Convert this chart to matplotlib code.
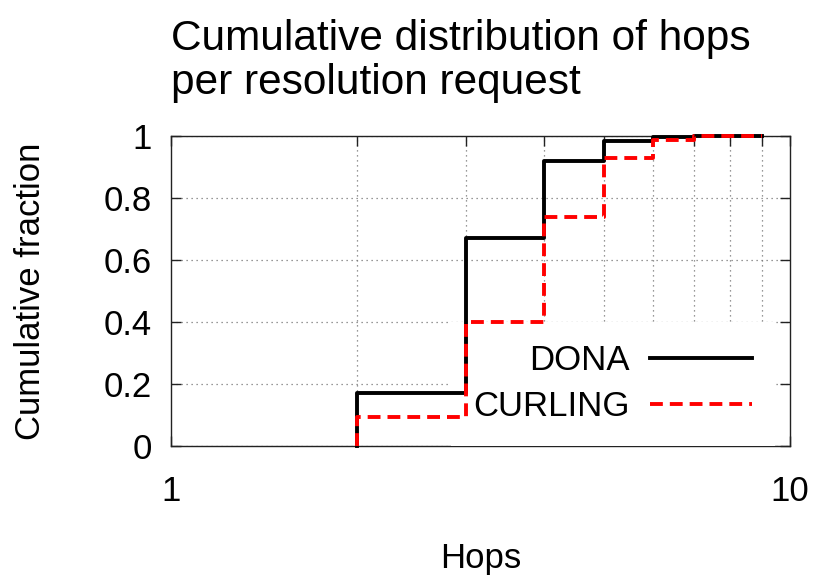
import matplotlib
matplotlib.use("Agg")
import matplotlib.pyplot as plt
import numpy as np

plt.rcParams['font.family'] = ['Liberation Sans', 'DejaVu Sans']
plt.rcParams['font.size'] = 25

# hop counts and cumulative fraction of requests resolved within that many hops
hops = [2, 3, 4, 5, 6, 7, 8, 9]
dona = [0.17, 0.67, 0.92, 0.985, 0.998, 1.0, 1.0, 1.0]
curling = [0.093, 0.40, 0.74, 0.93, 0.987, 1.0, 1.0, 1.0]

xticks = [1, 10]
xticklabels = ['1', '10']
yticks = [0, 0.2, 0.4, 0.6, 0.8, 1.0]
yticklabels = ['0', '0.2', '0.4', '0.6', '0.8', '1']

fig = plt.figure(figsize=(8.18, 5.77), dpi=100)
ax = fig.add_axes([171 / 818, 1 - 446 / 577, 619 / 818, 310 / 577])

# start each CDF at zero on its first hop count
xs = np.r_[hops[0], hops]
ax.step(xs, np.r_[0, dona], where='post', color='black', lw=2.8,
        label='DONA', clip_on=False, zorder=3)
ax.step(xs, np.r_[0, curling], where='post', color='red', lw=2.8,
        dashes=(3.3, 1.8), label='CURLING', clip_on=False, zorder=4)

ax.set_xscale('log')
ax.set_xlim(1, 10)
ax.set_ylim(0, 1)
ax.set_xticks(xticks, labels=xticklabels)
ax.set_xticks(range(2, 10), minor=True)
ax.xaxis.set_minor_formatter(plt.NullFormatter())
ax.set_yticks(yticks, labels=yticklabels)

ax.tick_params(which='both', direction='in', top=True, right=True,
               length=7, width=1, color='#222222')
ax.tick_params(axis='x', pad=21)
ax.tick_params(axis='y', pad=14)
for s in ax.spines.values():
    s.set_color('#222222')
    s.set_linewidth(1)

ax.xaxis.grid(True, which='minor', color='#777777', ls=(0, (1, 3)), lw=0.9)
ax.yaxis.grid(True, which='major', color='#777777', ls=(0, (1, 3)), lw=0.9)
ax.set_axisbelow(True)

ax.set_xlabel('Hops')
ax.xaxis.set_label_coords(0.5, -0.31)
ax.set_ylabel('Cumulative fraction')
ax.yaxis.set_label_coords(-0.2, 0.5)

ax.set_title('Cumulative distribution of hops\nper resolution request',
             loc='left', fontsize=30.5, pad=30, linespacing=1.15)

leg = ax.legend(loc='lower right', bbox_to_anchor=(0.975, 0.0),
                borderaxespad=0, markerfirst=False, frameon=True,
                fancybox=False, framealpha=1, facecolor='white',
                edgecolor='none', borderpad=0.65, handlelength=2.94,
                handletextpad=0.58, labelspacing=0.38)
# right-justify the labels against their line samples
for col in leg._legend_handle_box.get_children():
    col.align = 'right'
leg.set_zorder(2.5)

fig.savefig('out.png', dpi=100)
